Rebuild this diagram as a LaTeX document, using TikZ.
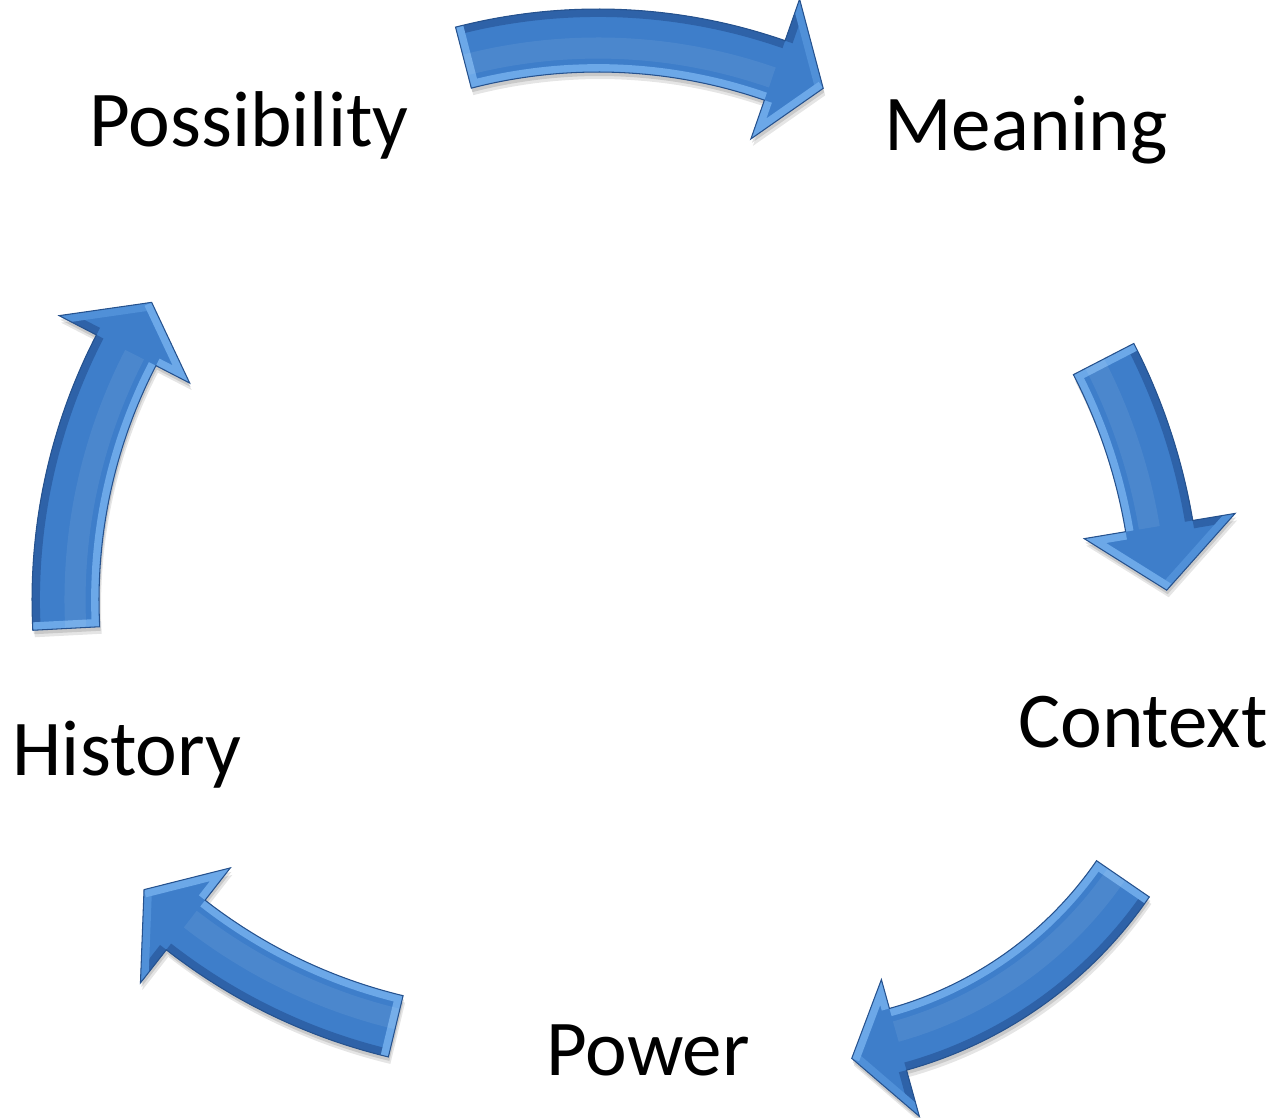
\documentclass[tikz,border=0pt]{standalone}
\usepackage{fontspec}
\setmainfont{Carlito}
\definecolor{facecol}{RGB}{62,126,202}
\definecolor{bevdarkcol}{RGB}{46,98,168}
\definecolor{bevlightcol}{RGB}{108,168,232}
\definecolor{bevmidcol}{RGB}{80,144,216}
\definecolor{edgecol}{RGB}{38,82,142}
\newcommand\setarrow[9]{\def\Acx{#1}\def\Acy{#2}\def\Arin{#3}\def\Arout{#4}\def\Ata{#5}\def\Aha{#6}\def\Atipa{#7}\def\Abin{#8}\def\About{#9}}
\newcommand\arrowshape{%
  ({\Acx+\Arout*cos(\Ata)},{\Acy-\Arout*sin(\Ata)})
  -- plot[domain=\Ata:\Aha,samples=40,variable=\t] ({\Acx+\Arout*cos(\t)},{\Acy-\Arout*sin(\t)})
  -- ({\Acx+\About*cos(\Aha)},{\Acy-\About*sin(\Aha)})
  -- ({\Acx+\Atipr*cos(\Atipa)},{\Acy-\Atipr*sin(\Atipa)})
  -- ({\Acx+\Abin*cos(\Aha)},{\Acy-\Abin*sin(\Aha)})
  -- plot[domain=\Aha:\Ata,samples=40,variable=\t] ({\Acx+\Arin*cos(\t)},{\Acy-\Arin*sin(\t)})
  -- cycle}
\newcommand\drawcyclearrow{%
  \pgfmathsetmacro\Atipr{(\Abin+\About)/2}%
  \coordinate (to) at ({\Acx+\Arout*cos(\Ata)},{\Acy-\Arout*sin(\Ata)});
  \coordinate (ti) at ({\Acx+\Arin*cos(\Ata)},{\Acy-\Arin*sin(\Ata)});
  \coordinate (ho) at ({\Acx+\Arout*cos(\Aha)},{\Acy-\Arout*sin(\Aha)});
  \coordinate (hi) at ({\Acx+\Arin*cos(\Aha)},{\Acy-\Arin*sin(\Aha)});
  \coordinate (bo) at ({\Acx+\About*cos(\Aha)},{\Acy-\About*sin(\Aha)});
  \coordinate (bi) at ({\Acx+\Abin*cos(\Aha)},{\Acy-\Abin*sin(\Aha)});
  \coordinate (tp) at ({\Acx+\Atipr*cos(\Atipa)},{\Acy-\Atipr*sin(\Atipa)});
  \fill[black, opacity=.10, shift={(2,7)}] \arrowshape;
  \fill[black, opacity=.12, shift={(1,4)}] \arrowshape;
  \begin{scope}
    \clip \arrowshape;
    \fill[facecol] \arrowshape;
    \draw[bevdarkcol, bev] plot[domain=\Ata:\Aha,samples=40,variable=\t] ({\Acx+\Arout*cos(\t)},{\Acy-\Arout*sin(\t)});
    \draw[bevlightcol, bev] plot[domain=\Ata:\Aha,samples=40,variable=\t] ({\Acx+\Arin*cos(\t)},{\Acy-\Arin*sin(\t)});
    \draw[bevlightcol, bev] (to) -- (ti);
    \draw[bevdarkcol, bev] (ho) -- (bo);
    \draw[bevmidcol, bev] (bo) -- (tp);
    \draw[bevlightcol, bev] (tp) -- (bi) -- (hi);
    \draw[white, opacity=.07, line width=12pt] plot[domain=\Ata:\Aha,samples=40,variable=\t] ({\Acx+(\Arin+24)*cos(\t)},{\Acy-(\Arin+24)*sin(\t)});
  \end{scope}
  \draw[edgecol, line width=0.6pt, line join=miter] \arrowshape;
}
\begin{document}
\begin{tikzpicture}[x=0.02cm, y=-0.02cm,
  lbl/.style={anchor=base, inner sep=0pt, font=\fontsize{45}{54}\selectfont, text=black},
  bev/.style={line width=9pt}]
\useasboundingbox (0,0) rectangle (1275,1117);
% top arrow: Possibility -> Meaning
\setarrow{598}{578}{506}{569}{104.5}{70.8}{65.3}{465}{613}
\drawcyclearrow
% right arrow: Meaning -> Context
\setarrow{598}{620}{535}{603}{27.3}{9.5}{3.0}{493}{646}
\drawcyclearrow
% bottom-right arrow: Context -> Power
\setarrow{790}{650}{372}{436}{-34.5}{-74.5}{-81.4}{342}{484}
\drawcyclearrow
% bottom-left arrow: Power -> History
\setarrow{524}{492}{518}{581}{256.5}{232}{226.3}{477}{623}
\drawcyclearrow
% left arrow: History -> Possibility
\setarrow{610}{600}{511}{578}{183}{152.7}{147}{473}{620}
\drawcyclearrow
\node[lbl] (possibility) at (249,146) {Possibility};
\node[lbl] (meaning) at (1026,150) {Meaning};
\node[lbl] (context) at (1143,747) {Context};
\node[lbl] (history) at (127,775) {History};
\node[lbl] (power) at (648,1075) {Power};
\end{tikzpicture}
\end{document}
